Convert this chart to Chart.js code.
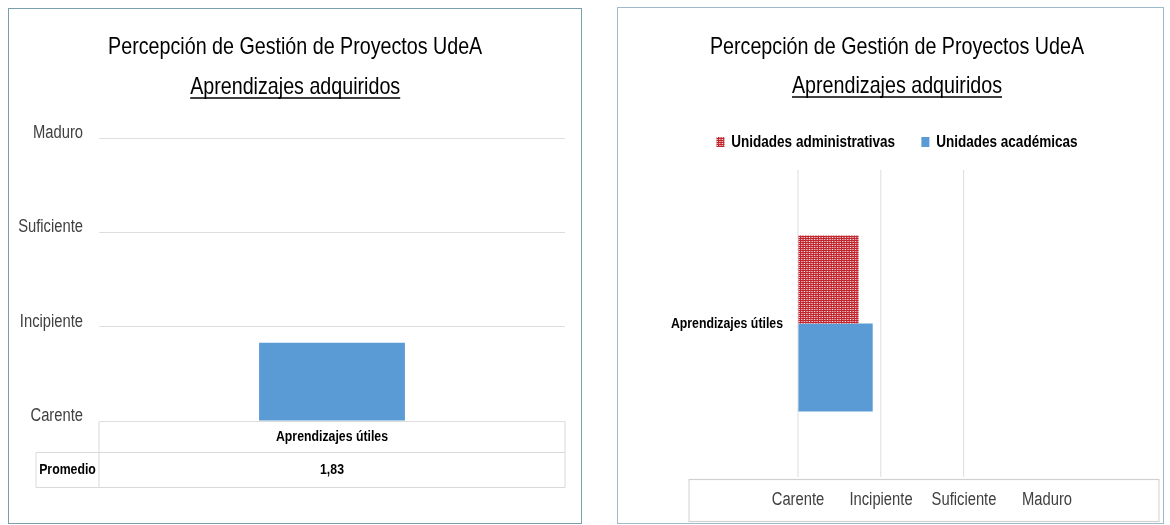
<!DOCTYPE html>
<html><head><meta charset="utf-8">
<script src="https://cdn.jsdelivr.net/npm/chart.js@4.4.1/dist/chart.umd.min.js"></script>
<style>
html,body{margin:0;padding:0;background:#fff;width:1170px;height:525px;overflow:hidden;position:relative}
.panel{position:absolute;box-sizing:border-box;border:1px solid #7a9eac;background:#fff;overflow:hidden}
#p1{left:8px;top:8px;width:574px;height:516px}
#p2{left:617px;top:7px;width:547px;height:517px;border-color:#9dbccb}
canvas{display:block}
</style></head><body>
<div class="panel" id="p1"><canvas id="c1"></canvas></div>
<div class="panel" id="p2"><canvas id="c2"></canvas></div>
<script>
// ---- data ----
const TITLE = 'Percepción de Gestión de Proyectos UdeA';
const SUBTITLE = 'Aprendizajes adquiridos';
const LEVELS = ['Carente', 'Incipiente', 'Suficiente', 'Maduro'];
const CATEGORIES = ['Aprendizajes útiles'];
const ROW_LABEL = 'Promedio';
const PROMEDIO = [1.83];
const SERIES_NAMES = ['Unidades administrativas', 'Unidades académicas'];
const ADMIN = [1.73];
const ACADEMIC = [1.90];

// ---- styling ----
// The reference uses a narrow (horizontally condensed) face; we draw with a horizontal scale factor.
const SX = 0.82;
const h = v => v / SX;               // convert screen px (horizontal) to chart units
const FONT = '"Liberation Sans", Arial, sans-serif';
Chart.defaults.font.family = FONT;
const BLUE = '#5B9BD5';
const GRID = '#d9d9d9';

const c1 = document.getElementById('c1');
c1.width = Math.round(h(572)); c1.height = 514;
const c2 = document.getElementById('c2');
c2.width = Math.round(h(545)); c2.height = 515;

function makePattern() {
  const c = document.createElement('canvas'); c.width = 4; c.height = 4;
  const g = c.getContext('2d');
  g.fillStyle = '#c0252d'; g.fillRect(0, 0, 4, 4);
  g.fillStyle = '#ffffff'; g.fillRect(1, 1, 1, 1); g.fillRect(3, 3, 1, 1);
  g.fillStyle = '#f0c2c4'; g.fillRect(3, 1, 1, 1); g.fillRect(1, 3, 1, 1);
  return g.createPattern(c, 'repeat');
}
const RED_PATTERN = makePattern();

const condensePlugin = {
  id: 'condense',
  beforeDraw(chart) { chart.ctx.save(); chart.ctx.scale(SX, 1); },
  afterDraw(chart) { chart.ctx.restore(); }
};

const underlinePlugin = {
  id: 'underline',
  afterDraw(chart) {
    const box = chart.boxes.find(b => b.options && b.options.text === SUBTITLE);
    if (!box) return;
    const ctx = chart.ctx;
    const f = Chart.helpers.toFont(box.options.font);
    const pad = Chart.helpers.toPadding(box.options.padding);
    ctx.save();
    ctx.font = f.string;
    const w = ctx.measureText(SUBTITLE).width;
    const cy = box.top + pad.top + f.lineHeight / 2;
    const cx = (box.left + box.right) / 2;
    ctx.strokeStyle = '#000'; ctx.lineWidth = 1.5;
    ctx.beginPath(); ctx.moveTo(cx - w / 2, cy + 11); ctx.lineTo(cx + w / 2, cy + 11); ctx.stroke();
    ctx.restore();
  }
};

const tablePlugin = {
  id: 'dataTable',
  afterDraw(chart) {
    const {ctx, chartArea} = chart;
    const xs = chart.scales.x;
    const top = Math.round(chartArea.bottom) + 0.5;
    const r1 = top + 31, r2 = top + 66;
    const left = chartArea.left, right = chartArea.right;
    const hdrLeft = left - h(63);
    ctx.save();
    ctx.strokeStyle = GRID; ctx.lineWidth = 1.2;
    ctx.beginPath();
    ctx.moveTo(hdrLeft, r1); ctx.lineTo(right, r1);
    ctx.moveTo(hdrLeft, r2); ctx.lineTo(right, r2);
    ctx.moveTo(left, top); ctx.lineTo(left, r2);
    ctx.moveTo(right, top); ctx.lineTo(right, r2);
    ctx.moveTo(hdrLeft, r1); ctx.lineTo(hdrLeft, r2);
    ctx.stroke();
    ctx.font = Chart.helpers.toFont({size: 15, weight: 'bold', family: FONT}).string;
    ctx.fillStyle = '#000'; ctx.textAlign = 'center'; ctx.textBaseline = 'middle';
    ctx.fillText(ROW_LABEL, (hdrLeft + left) / 2, (r1 + r2) / 2);
    PROMEDIO.forEach((v, i) => ctx.fillText(v.toFixed(2).replace('.', ','), xs.getPixelForValue(i), (r1 + r2) / 2));
    ctx.restore();
  }
};

const labelBoxPlugin = {
  id: 'labelBox',
  afterDraw(chart) {
    const {ctx, chartArea} = chart;
    ctx.save();
    ctx.strokeStyle = '#d0d0d0'; ctx.lineWidth = 1.2;
    const l = chartArea.left - h(109);
    const r = chartArea.right + h(112);
    const t = Math.round(chartArea.bottom + 2) + 0.5;
    const b = chart.height - 1.5;
    ctx.strokeRect(l, t, r - l, b - t);
    ctx.restore();
  }
};

const titleCfg = (pt, pb) => ({display: true, text: TITLE, color: '#000', font: {size: 24, weight: 'normal', lineHeight: 1.2}, padding: {top: pt, bottom: pb}});
const subCfg = (pt, pb) => ({display: true, text: SUBTITLE, color: '#000', font: {size: 24, weight: 'normal', lineHeight: 1.2}, padding: {top: pt, bottom: pb}});
const spacer = (pos, size) => ({
  type: 'linear', position: pos, display: true,
  grid: {display: false, drawTicks: false}, border: {display: false}, ticks: {display: false},
  afterFit: s => { if (pos === 'top' || pos === 'bottom') s.height = size; else s.width = size; }
});

// ---- left chart ----
new Chart(c1, {
  type: 'bar',
  data: {
    labels: CATEGORIES,
    datasets: [{label: ROW_LABEL, data: PROMEDIO, backgroundColor: BLUE, base: 1, barPercentage: 0.313, categoryPercentage: 1, xAxisID: 'x', yAxisID: 'y'}]
  },
  options: {
    responsive: false, animation: false, events: [],
    layout: {padding: 0},
    plugins: {
      legend: {display: false}, tooltip: {enabled: false},
      title: titleCfg(23.6, 0),
      subtitle: subCfg(11.2, 36.6)
    },
    scales: {
      x: {
        grid: {display: false, drawTicks: false}, border: {display: false},
        ticks: {color: '#000', font: {size: 15, weight: 'bold'}, padding: 6.5, maxRotation: 0, autoSkip: false},
        afterFit: s => { s.height = 102; }
      },
      y: {
        min: 1, max: 4,
        grid: {color: GRID, drawTicks: false}, border: {display: false},
        ticks: {stepSize: 1, callback: v => LEVELS[v - 1], color: '#404040', font: {size: 18}, padding: h(16), labelOffset: -5},
        afterFit: s => { s.width = h(90); }
      },
      padR: spacer('right', c1.width - h(556))
    }
  },
  plugins: [underlinePlugin, tablePlugin, condensePlugin]
});

// ---- right chart ----
new Chart(c2, {
  type: 'bar',
  data: {
    labels: CATEGORIES,
    datasets: [
      {label: SERIES_NAMES[0], data: ADMIN, backgroundColor: RED_PATTERN, base: 1, xAxisID: 'x', yAxisID: 'y'},
      {label: SERIES_NAMES[1], data: ACADEMIC, backgroundColor: BLUE, base: 1, xAxisID: 'x', yAxisID: 'y'}
    ]
  },
  options: {
    indexAxis: 'y', responsive: false, animation: false, events: [],
    datasets: {bar: {categoryPercentage: 0.573, barPercentage: 1}},
    layout: {padding: {left: 2 * h(279) - c2.width, right: 0, top: 0, bottom: 0}},
    plugins: {
      tooltip: {enabled: false},
      legend: {display: true, position: 'top', labels: {color: '#000', font: {size: 16.5, weight: 'bold'}, boxWidth: h(8), boxHeight: 10, padding: 32}},
      title: titleCfg(24.6, 0),
      subtitle: subCfg(10.2, 1.35)
    },
    scales: {
      y: {
        grid: {display: false, drawTicks: false}, border: {display: false},
        ticks: {color: '#000', font: {size: 15, weight: 'bold'}, padding: h(15)},
        afterFit: s => { s.width = h(180) - (2 * h(279) - c2.width); }
      },
      x: {
        type: 'linear', min: 1, max: 4, position: 'bottom',
        grid: {color: c => (c.tick && c.tick.value === 4) ? 'rgba(0,0,0,0)' : GRID, drawTicks: false},
        border: {display: false},
        ticks: {stepSize: 1, callback: v => LEVELS[v - 1], color: '#404040', font: {size: 18}, padding: 12.2, maxRotation: 0, minRotation: 0, autoSkip: false},
        afterFit: s => { s.height = 46; }
      },
      gapTop: spacer('top', 9.75),
      gapRight: spacer('right', c2.width - h(429))
    }
  },
  plugins: [underlinePlugin, labelBoxPlugin, condensePlugin]
});
</script>
</body></html>
